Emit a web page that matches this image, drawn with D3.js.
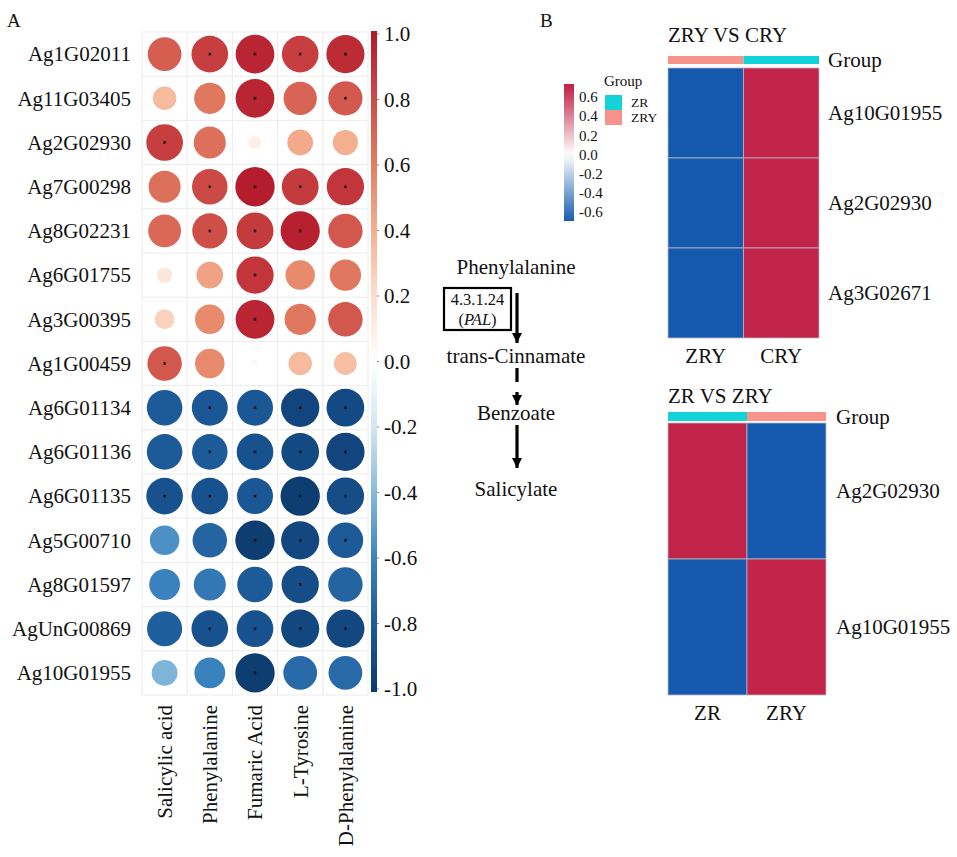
<!DOCTYPE html>
<html><head><meta charset="utf-8">
<script src="https://cdn.jsdelivr.net/npm/d3@7"></script>
<style>body{margin:0;background:#fff}svg{display:block}text{font-family:"Liberation Serif","Times New Roman",serif;fill:#111}</style>
</head><body><svg id="c" width="957" height="857"></svg>
<script>
// ---------- Panel A data ----------
const genes = ["Ag1G02011","Ag11G03405","Ag2G02930","Ag7G00298","Ag8G02231","Ag6G01755","Ag3G00395","Ag1G00459","Ag6G01134","Ag6G01136","Ag6G01135","Ag5G00710","Ag8G01597","AgUnG00869","Ag10G01955"];
const metabolites = ["Salicylic acid","Phenylalanine","Fumaric Acid","L-Tyrosine","D-Phenylalanine"];
const corrValues = [
  [0.72, 0.85, 0.95, 0.85, 0.92],
  [0.35, 0.62, 0.95, 0.70, 0.74],
  [0.85, 0.65, 0.10, 0.42, 0.40],
  [0.65, 0.80, 0.98, 0.86, 0.88],
  [0.68, 0.78, 0.86, 0.97, 0.75],
  [0.15, 0.45, 0.88, 0.55, 0.62],
  [0.25, 0.55, 0.95, 0.62, 0.75],
  [0.75, 0.55, 0.03, 0.35, 0.33],
  [-0.80,-0.82,-0.82,-0.93,-0.90],
  [-0.80,-0.80,-0.85,-0.90,-0.93],
  [-0.85,-0.85,-0.82,-0.98,-0.88],
  [-0.55,-0.75,-0.98,-0.92,-0.80],
  [-0.60,-0.65,-0.80,-0.88,-0.75],
  [-0.78,-0.85,-0.85,-0.92,-0.92],
  [-0.42,-0.60,-0.98,-0.72,-0.72]
];
const significant = [
  [0,1,1,1,1],[0,0,1,0,1],[1,0,0,0,0],[0,1,1,1,1],[0,1,1,1,0],
  [0,0,1,0,0],[0,0,1,0,0],[1,0,0,0,0],[0,1,1,1,1],[0,1,1,1,1],
  [1,1,1,1,1],[0,0,1,1,1],[0,0,0,1,0],[0,1,1,1,1],[0,0,1,0,0]
];
const corrTicks = [1.0,0.8,0.6,0.4,0.2,0.0,-0.2,-0.4,-0.6,-0.8,-1.0];
const corrTickLabels = ["1.0","0.8","0.6","0.4","0.2","0.0","-0.2","-0.4","-0.6","-0.8","-1.0"];

// ---------- Panel B data ----------
const hm1Title = "ZRY VS CRY";
const hm1Cols = ["ZRY","CRY"];
const hm1ColGroup = ["ZRY","ZR"];
const hm1Rows = ["Ag10G01955","Ag2G02930","Ag3G02671"];
const hm1Values = [[-0.707,0.707],[-0.707,0.707],[-0.707,0.707]];

const hm2Title = "ZR VS ZRY";
const hm2Cols = ["ZR","ZRY"];
const hm2ColGroup = ["ZR","ZRY"];
const hm2Rows = ["Ag2G02930","Ag10G01955"];
const hm2Values = [[0.707,-0.707],[-0.707,0.707]];

const groupNames = ["ZR","ZRY"];
const hmTicks = [0.6,0.4,0.2,0.0,-0.2,-0.4,-0.6];
const hmTickLabels = ["0.6","0.4","0.2","0.0","-0.2","-0.4","-0.6"];

const pathwayNodes = ["Phenylalanine","trans-Cinnamate","Benzoate","Salicylate"];
const pathwayEdges = [{from:0,to:1,dashed:false,enzyme:"4.3.1.24",gene:"PAL"},{from:1,to:2,dashed:true},{from:2,to:3,dashed:false}];

// ---------- drawing ----------
const svg = d3.select("#c");

const corrColor = d3.scaleLinear()
  .domain([-1,-0.8,-0.6,-0.4,-0.2,0,0.2,0.4,0.6,0.8,1])
  .range(["#0C3A6E","#1C5A98","#3A82BD","#86BADB","#D3E6F1","#FFFFFF","#FBDDCC","#F4AF8F","#E27D62","#CC4A45","#B2182B"]);

const xA = d3.scaleBand().domain(metabolites).range([142,368]);
const yA = d3.scaleBand().domain(genes).range([32,695]);
const rA = d3.scaleSqrt().domain([0,1]).range([0, 0.45*yA.bandwidth()]);

svg.append("text").attr("x",7).attr("y",27).attr("font-size",19).text("A");

const gA = svg.append("g");
gA.selectAll("line.v").data(d3.range(metabolites.length+1)).join("line")
  .attr("x1",i=>xA.range()[0]+i*xA.bandwidth()).attr("x2",i=>xA.range()[0]+i*xA.bandwidth())
  .attr("y1",yA.range()[0]).attr("y2",yA.range()[1]).attr("stroke","#ececec").attr("stroke-width",1);
gA.selectAll("line.h").data(d3.range(genes.length+1)).join("line")
  .attr("y1",i=>yA.range()[0]+i*yA.bandwidth()).attr("y2",i=>yA.range()[0]+i*yA.bandwidth())
  .attr("x1",xA.range()[0]).attr("x2",xA.range()[1]).attr("stroke","#ececec").attr("stroke-width",1);

const cells = [];
genes.forEach((g,i)=>metabolites.forEach((m,j)=>cells.push({g,m,v:corrValues[i][j],s:significant[i][j]})));
gA.selectAll("circle.c").data(cells).join("circle")
  .attr("cx",d=>xA(d.m)+xA.bandwidth()/2).attr("cy",d=>yA(d.g)+yA.bandwidth()/2)
  .attr("r",d=>rA(Math.abs(d.v))).attr("fill",d=>corrColor(d.v));
gA.selectAll("path.s").data(cells.filter(d=>d.s)).join("path")
  .attr("transform",d=>`translate(${xA(d.m)+xA.bandwidth()/2},${yA(d.g)+yA.bandwidth()/2})`)
  .attr("d",d3.symbol(d3.symbolAsterisk,7)).attr("stroke","#111").attr("stroke-width",0.9);

gA.selectAll("text.yl").data(genes).join("text")
  .attr("x",131).attr("y",d=>yA(d)+yA.bandwidth()/2).attr("dy","0.35em")
  .attr("text-anchor","end").attr("font-size",21).text(d=>d);
gA.selectAll("text.xl").data(metabolites).join("text")
  .attr("transform",d=>`translate(${xA(d)+xA.bandwidth()/2},705) rotate(-90)`)
  .attr("dy","0.35em").attr("text-anchor","end").attr("font-size",21).text(d=>d);

const yC = d3.scaleLinear().domain([-1,1]).range([689,34]);
const defs = svg.append("defs");
const gradA = defs.append("linearGradient").attr("id","gA").attr("x1",0).attr("x2",0).attr("y1",1).attr("y2",0);
d3.range(0,1.0001,0.05).forEach(t=>gradA.append("stop").attr("offset",t).attr("stop-color",corrColor(-1+2*t)));
svg.append("rect").attr("x",371).attr("y",yC(1)-3).attr("width",6).attr("height",yC(-1)-yC(1)+6).attr("fill","url(#gA)");
svg.selectAll("line.ct").data(corrTicks).join("line")
  .attr("x1",377).attr("x2",379).attr("y1",d=>yC(d)).attr("y2",d=>yC(d)).attr("stroke","#555").attr("stroke-width",0.7);
svg.selectAll("text.ct").data(corrTicks).join("text")
  .attr("x",384).attr("y",d=>yC(d)).attr("dy","0.35em").attr("font-size",21)
  .text((d,i)=>corrTickLabels[i]);

// ---------- Panel B ----------
svg.append("text").attr("x",540).attr("y",27).attr("font-size",19).text("B");

const groupColor = d3.scaleOrdinal().domain(groupNames).range(["#13D2D8","#F8938A"]);
const hmColor = d3.scaleLinear().domain([-0.707,0,0.707]).range(["#1559AE","#FFFFFF","#C22349"]).clamp(true);

function heatmap(opt){
  const g = svg.append("g");
  const x = d3.scaleBand().domain(opt.cols).range([opt.x0,opt.x1]);
  const y = d3.scaleBand().domain(opt.rows).range([opt.y0,opt.y1]);
  g.append("text").attr("x",opt.x0).attr("y",opt.titleY).attr("font-size",21).text(opt.title);
  g.selectAll("rect.a").data(opt.cols).join("rect")
    .attr("x",d=>x(d)).attr("width",x.bandwidth()).attr("y",opt.annY).attr("height",opt.annH)
    .attr("fill",(d,i)=>groupColor(opt.colGroup[i]));
  g.append("text").attr("x",opt.labX).attr("y",opt.annY+opt.annH/2).attr("dy","0.35em").attr("font-size",21).text("Group");
  const cs=[];
  opt.rows.forEach((r,i)=>opt.cols.forEach((c,j)=>cs.push({r,c,v:opt.values[i][j]})));
  g.selectAll("rect.c").data(cs).join("rect")
    .attr("x",d=>x(d.c)).attr("y",d=>y(d.r)).attr("width",x.bandwidth()).attr("height",y.bandwidth())
    .attr("fill",d=>hmColor(d.v)).attr("stroke","#b9b9c4").attr("stroke-width",0.8);
  g.selectAll("text.r").data(opt.rows).join("text")
    .attr("x",opt.labX).attr("y",d=>y(d)+y.bandwidth()/2).attr("dy","0.35em").attr("font-size",21).text(d=>d);
  g.selectAll("text.cl").data(opt.cols).join("text")
    .attr("x",d=>x(d)+x.bandwidth()/2).attr("y",opt.y1+18).attr("dy","0.35em")
    .attr("text-anchor","middle").attr("font-size",21).text(d=>d);
}
heatmap({title:hm1Title,cols:hm1Cols,colGroup:hm1ColGroup,rows:hm1Rows,values:hm1Values,
  x0:668,x1:819,y0:68,y1:338,titleY:42,annY:56,annH:8,labX:828});
heatmap({title:hm2Title,cols:hm2Cols,colGroup:hm2ColGroup,rows:hm2Rows,values:hm2Values,
  x0:668,x1:826,y0:423,y1:695,titleY:403,annY:412,annH:9,labX:836});

const yL = d3.scaleLinear().domain([-0.6,0.6]).range([212,97]);
const gradB = defs.append("linearGradient").attr("id","gB").attr("x1",0).attr("x2",0).attr("y1",1).attr("y2",0);
const vTop = yL.invert(84), vBot = yL.invert(221);
d3.range(0,1.0001,0.05).forEach(t=>gradB.append("stop").attr("offset",t).attr("stop-color",hmColor(vBot+(vTop-vBot)*t)));
svg.append("rect").attr("x",564).attr("y",84).attr("width",10).attr("height",137).attr("fill","url(#gB)");
svg.selectAll("text.lt").data(hmTicks).join("text")
  .attr("x",579).attr("y",d=>yL(d)).attr("dy","0.35em").attr("font-size",15).text((d,i)=>hmTickLabels[i]);
svg.append("text").attr("x",604).attr("y",81).attr("dy","0.35em").attr("font-size",15).text("Group");
svg.selectAll("rect.lg").data(groupNames).join("rect")
  .attr("x",605).attr("y",(d,i)=>95+i*15).attr("width",17).attr("height",15).attr("fill",d=>groupColor(d));
svg.selectAll("text.lg").data(groupNames).join("text")
  .attr("x",631).attr("y",(d,i)=>102+i*15.5).attr("dy","0.35em").attr("font-size",13.5).text(d=>d);

// ---------- pathway ----------
const nodeYs = [267,356,413,489];
svg.selectAll("text.pw").data(pathwayNodes).join("text")
  .attr("x",516).attr("y",(d,i)=>nodeYs[i]).attr("dy","0.35em").attr("text-anchor","middle").attr("font-size",21).text(d=>d);
defs.append("marker").attr("id","ah").attr("viewBox","0 0 10 10").attr("refX",10).attr("refY",5)
  .attr("markerWidth",3.2).attr("markerHeight",3.6).attr("markerUnits","strokeWidth").attr("orient","auto")
  .append("path").attr("d","M0,0L10,5L0,10Z").attr("fill","#000");
const arrowSpans = [[293,343],[368,405],[425,468]];
pathwayEdges.forEach((e,i)=>{
  const [a,b]=arrowSpans[i];
  svg.append("line").attr("x1",517).attr("x2",517).attr("y1",a).attr("y2",b)
    .attr("stroke","#000").attr("stroke-width",3.2)
    .attr("stroke-dasharray",e.dashed?"14,10":null).attr("marker-end","url(#ah)");
  if(e.enzyme){
    svg.append("rect").attr("x",444).attr("y",288).attr("width",67).attr("height",42)
      .attr("fill","none").attr("stroke","#000").attr("stroke-width",2.2);
    svg.append("text").attr("x",477.5).attr("y",299.5).attr("dy","0.35em").attr("text-anchor","middle").attr("font-size",16.5).text(e.enzyme);
    const t = svg.append("text").attr("x",477.5).attr("y",319).attr("dy","0.35em").attr("text-anchor","middle").attr("font-size",16.5);
    t.append("tspan").text("(");
    t.append("tspan").attr("font-style","italic").text(e.gene);
    t.append("tspan").text(")");
  }
});
</script></body></html>
